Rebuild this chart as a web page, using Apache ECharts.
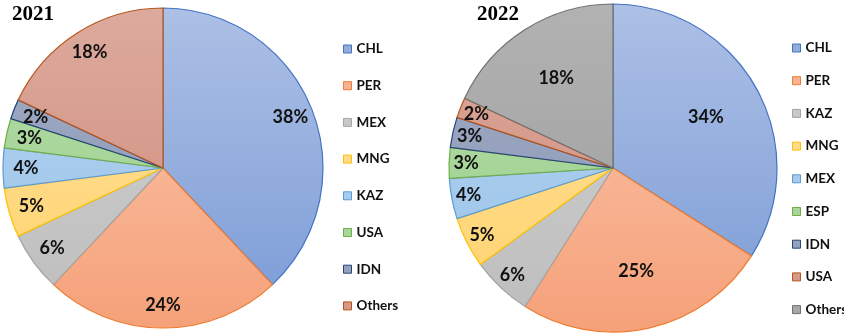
<!DOCTYPE html>
<html>
<head>
<meta charset="utf-8">
<script src="https://cdn.jsdelivr.net/npm/echarts@6/dist/echarts.min.js"></script>
<style>
html,body{margin:0;padding:0;background:#fff;}
#chart{width:844px;height:334px;}
</style>
</head>
<body>
<div id="chart"></div>
<script>
// ---- data ----
const title2021 = '2021';
const cats2021 = ['CHL', 'PER', 'MEX', 'MNG', 'KAZ', 'USA', 'IDN', 'Others'];
const vals2021 = [38, 24, 6, 5, 4, 3, 2, 18];

const title2022 = '2022';
const cats2022 = ['CHL', 'PER', 'KAZ', 'MNG', 'MEX', 'ESP', 'IDN', 'USA', 'Others'];
const vals2022 = [34, 25, 6, 5, 4, 3, 3, 2, 18];
// labels of 2022 placed nearer the centre (large slices)
const inner2022 = ['CHL', 'PER', 'Others'];

// ---- styles (Excel-like palette by position) ----
const palette = [
  { top: '#adc0e5', bot: '#7a9bd6', mid: '#93add9', border: '#4472c4' },
  { top: '#fcc8b0', bot: '#f5a179', mid: '#f9b292', border: '#ed7d31' },
  { top: '#d2d2d2', bot: '#bdbdbd', mid: '#c8c8c8', border: '#a5a5a5' },
  { top: '#ffe29f', bot: '#ffd26c', mid: '#ffda88', border: '#ffc000' },
  { top: '#b4d4f0', bot: '#98c2e9', mid: '#a7cbec', border: '#5b9bd5' },
  { top: '#b3dca7', bot: '#9bcf8c', mid: '#a8d59b', border: '#70ad47' },
  { top: '#a3adc6', bot: '#8794b3', mid: '#96a1bd', border: '#264478' },
  { top: '#dcaa9d', bot: '#cf8a79', mid: '#d69a8b', border: '#b8561c' },
  { top: '#b2b2b2', bot: '#9c9c9c', mid: '#a8a8a8', border: '#707070' }
];

function grad(p, y0, y1) {
  return { type: 'linear', x: 0, y: y0, x2: 0, y2: y1, global: true,
    colorStops: [{ offset: 0, color: p.top }, { offset: 1, color: p.bot }] };
}

const FONT = 'Lato, "Open Sans", sans-serif';

function mainSeries(cats, vals, cx, cy, r) {
  return {
    type: 'pie', center: [cx, cy], radius: [0, r], startAngle: 90, clockwise: true,
    silent: true, animation: false, label: { show: false }, labelLine: { show: false },
    data: cats.map((c, i) => ({
      name: c, value: vals[i],
      itemStyle: { color: grad(palette[i], cy - r, cy + r), borderColor: palette[i].border, borderWidth: 1.2 }
    }))
  };
}

function labelSeries(cats, vals, cx, cy, r0, r, filter) {
  return {
    type: 'pie', center: [cx, cy], radius: [r0, r], startAngle: 90, clockwise: true,
    silent: true, animation: false, avoidLabelOverlap: false, labelLine: { show: false },
    itemStyle: { color: 'rgba(0,0,0,0)', borderWidth: 0 },
    label: { show: true, position: 'inside', formatter: p => p.value + '%',
      fontFamily: FONT, fontWeight: 'bold', fontSize: 18, color: '#111' },
    data: cats.map((c, i) => ({
      name: c, value: vals[i],
      label: { show: filter(c) }
    }))
  };
}

function legend(cats, left, top, gap) {
  return {
    orient: 'vertical', left: left, top: top, itemGap: gap, itemWidth: 8, itemHeight: 8,
    icon: 'rect', selectedMode: false,
    textStyle: { fontFamily: FONT, fontSize: 13.5, fontWeight: 'bold', color: '#111', lineHeight: 14 },
    data: cats.map((c, i) => ({
      name: c,
      itemStyle: { color: palette[i].mid, borderColor: palette[i].border, borderWidth: 1 }
    }))
  };
}

const chart = echarts.init(document.getElementById('chart'), null, { renderer: 'canvas' });
chart.setOption({
  backgroundColor: '#fff',
  animation: false,
  title: [
    { text: title2021, left: 7, top: -1, textStyle: { fontFamily: '"Liberation Serif", "Times New Roman", serif', fontWeight: 'bold', fontSize: 21, color: '#000' } },
    { text: title2022, left: 472, top: -1, textStyle: { fontFamily: '"Liberation Serif", "Times New Roman", serif', fontWeight: 'bold', fontSize: 21, color: '#000' } }
  ],
  legend: [
    legend(cats2021, 338, 37, 22.7),
    legend(cats2022, 787, 36, 18.7)
  ],
  series: [
    mainSeries(cats2021, vals2021, 163, 168, 160),
    labelSeries(cats2021, vals2021, 163, 168, 108, 160, () => true),
    mainSeries(cats2022, vals2022, 613, 168, 164),
    labelSeries(cats2022, vals2022, 613, 168, 42, 164, c => inner2022.includes(c)),
    labelSeries(cats2022, vals2022, 613, 168, 124, 164, c => !inner2022.includes(c))
  ]
});
</script>
</body>
</html>
